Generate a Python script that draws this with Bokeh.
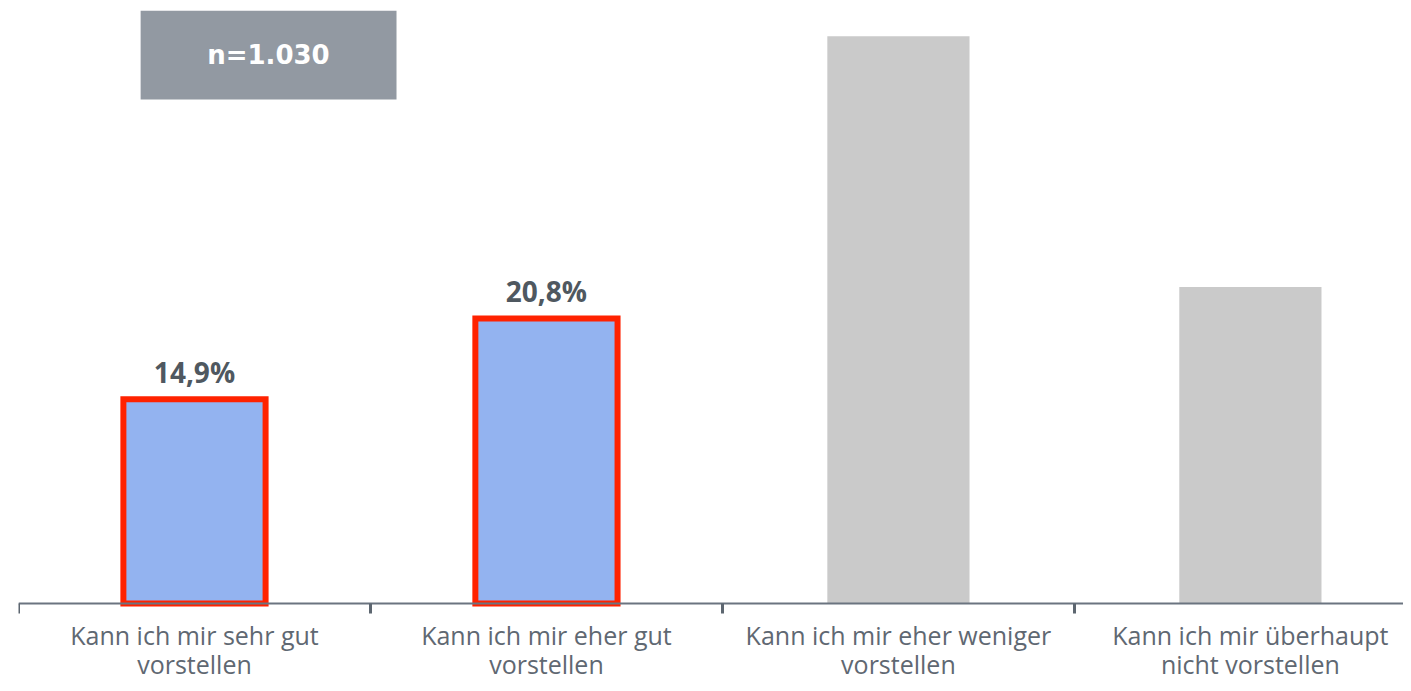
from bokeh.plotting import figure
from bokeh.models import ColumnDataSource, Range1d, FixedTicker, BoxAnnotation, Label
from bokeh.embed import file_html
from bokeh.resources import INLINE
from bokeh.core.properties import value

categories = [
    "Kann ich mir sehr gut\nvorstellen",
    "Kann ich mir eher gut\nvorstellen",
    "Kann ich mir eher weniger\nvorstellen",
    "Kann ich mir überhaupt\nnicht vorstellen",
]
values = [14.9, 20.8, 41.4, 23.1]
highlighted = [True, True, False, False]
value_labels = ["14,9%", "20,8%", "", ""]
sample_label = "n=1.030"

BLUE = "#93b3f0"
RED = "#ff2200"
GRAY = "#cacaca"
TEXT = "#5f6872"

FIG_H = 683
BASE_PX = 603          # pixel row of the baseline
Y_MAX = 44.0
PX = Y_MAX / BASE_PX   # data units per pixel

xs = [i + 0.5 for i in range(len(categories))]
src = ColumnDataSource(dict(
    x=xs,
    top=values,
    fill=[BLUE if h else GRAY for h in highlighted],
    line=[RED if h else GRAY for h in highlighted],
    lw=[6 if h else 0 for h in highlighted],
    lab=value_labels,
))

p = figure(width=1403, height=FIG_H,
           x_range=Range1d(0, 3.935),
           y_range=Range1d(-(FIG_H - BASE_PX) * PX, Y_MAX),
           output_backend="svg", toolbar_location=None,
           min_border_left=18, min_border_right=0,
           min_border_top=0, min_border_bottom=0)
p.outline_line_color = None
p.xgrid.visible = False
p.ygrid.visible = False
p.yaxis.visible = False

p.vbar(x="x", top="top", width=0.404, bottom=0, source=src,
       fill_color="fill", line_color="line", line_width="lw",
       line_join="miter")

p.text(x="x", y="top", text="lab", source=src, y_offset=-27,
       text_align="center", text_baseline="alphabetic",
       text_font=value("Open Sans"), text_font_style="bold",
       text_font_size="28px", text_color="#4f5860")

ax = p.xaxis[0]
ax.fixed_location = 0
ax.ticker = FixedTicker(ticks=xs, minor_ticks=list(range(len(categories))))
ax.major_label_overrides = {x: c for x, c in zip(xs, categories)}
ax.major_tick_out = 0
ax.major_tick_in = 0
ax.minor_tick_out = 10
ax.minor_tick_in = 0
ax.minor_tick_line_width = 3
ax.minor_tick_line_color = "#5d6670"
ax.axis_line_color = "#6b7480"
ax.axis_line_width = 2
ax.major_label_standoff = 4
ax.major_label_text_font = "Open Sans"
ax.major_label_text_font_size = "25px"
ax.major_label_text_color = TEXT
ax.major_label_text_line_height = 0.88

box = BoxAnnotation(left=0.347, right=1.074, bottom=36.77, top=43.26,
                    fill_color="#9299a2", fill_alpha=1.0, line_color=None)
p.add_layout(box)
p.add_layout(Label(x=0.71, y=40.0, text=sample_label, text_align="center",
                   text_baseline="middle", text_font="DejaVu Sans",
                   text_font_style="bold", text_font_size="26px",
                   text_color="white"))

open("out.html", "w").write(file_html(p, INLINE))
